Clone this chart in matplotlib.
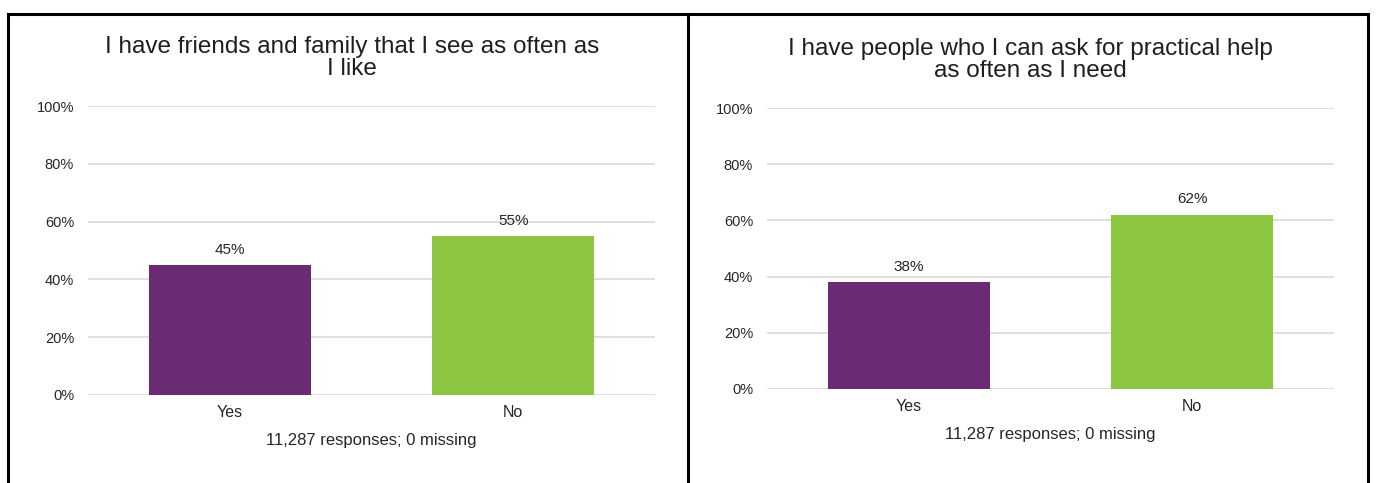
import matplotlib
matplotlib.use("Agg")
import matplotlib.pyplot as plt
from matplotlib.lines import Line2D

plt.rcParams["font.family"] = ["Liberation Sans", "DejaVu Sans"]

categories = ["Yes", "No"]
friends_values = [0.45, 0.55]
help_values = [0.38, 0.62]
titles = [
    "I have friends and family that I see as often as\nI like",
    "I have people who I can ask for practical help\nas often as I need",
]
footer = "11,287 responses; 0 missing"
yticks = [0, 0.2, 0.4, 0.6, 0.8, 1.0]

PURPLE = "#6B2A74"
GREEN = "#8DC641"
TEXT = "#262626"
GRID = "#D9D9D9"

W, H = 1376, 483
fig = plt.figure(figsize=(W / 100, H / 100), dpi=100)


def px_axes(x0, x1, y_top, y_bot):
    return fig.add_axes([x0 / W, 1 - y_bot / H, (x1 - x0) / W, (y_bot - y_top) / H])


def draw_panel(ax, values, title, title_cx, title_y, foot_y):
    ax.bar(range(len(values)), values, width=0.57, color=[PURPLE, GREEN], zorder=3)
    ax.set_xlim(-0.5, len(values) - 0.5)
    ax.set_ylim(0, 1)
    ax.set_yticks(yticks)
    ax.set_yticklabels([f"{int(round(t * 100))}%" for t in yticks])
    ax.set_xticks(range(len(values)))
    ax.set_xticklabels(categories, fontsize=11.5)
    ax.tick_params(length=0, colors=TEXT)
    ax.tick_params(axis="y", pad=10, labelsize=10.5)
    ax.tick_params(axis="x", pad=7)
    ax.grid(axis="y", color=GRID, linewidth=1.2, zorder=0)
    for s in ax.spines.values():
        s.set_visible(False)
    for i, v in enumerate(values):
        ax.annotate(f"{int(round(v * 100))}%", (i, v), xytext=(0, 6),
                    textcoords="offset points", ha="center", va="bottom",
                    fontsize=11, color=TEXT)
    fig.text(title_cx / W, 1 - title_y / H, title, ha="center", va="top",
             fontsize=17.5, color="#1F1F1F", linespacing=1.0)
    box = ax.get_position()
    fig.text(box.x0 + box.width / 2, 1 - foot_y / H, footer, ha="center",
             va="center", fontsize=12, color=TEXT)


left = px_axes(88, 655, 106, 395)
right = px_axes(767, 1334, 108, 389)
draw_panel(left, friends_values, titles[0], 352, 36, 440)
draw_panel(right, help_values, titles[1], 1030, 38, 434)

# table frame around the two charts
frame = dict(color="black", linewidth=2.2, transform=fig.transFigure)
fig.add_artist(Line2D([8 / W, 1368 / W], [1 - 14 / H] * 2, **frame))
for x in (8, 688, 1368):
    fig.add_artist(Line2D([x / W] * 2, [0, 1 - 14 / H], **frame))

fig.savefig("out.png", dpi=100)
